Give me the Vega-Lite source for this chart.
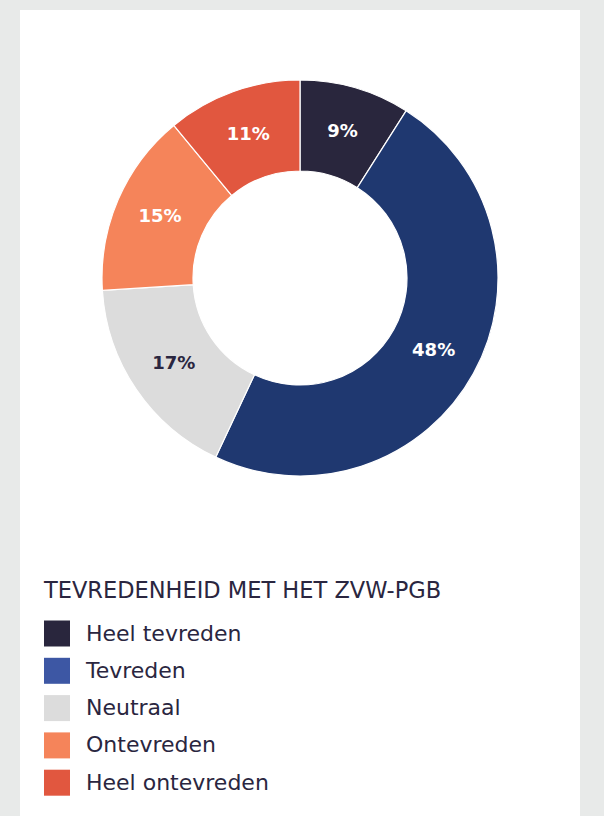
{
  "$schema": "https://vega.github.io/schema/vega-lite/v6.json",
  "background": "#e8eae9",
  "padding": {"left": 20, "top": 10, "right": 24, "bottom": 0},
  "spacing": 0,
  "config": {
    "view": {"fill": "white", "stroke": null},
    "font": "DejaVu Sans"
  },
  "datasets": {
    "tevredenheid": [
      {"cat": "Heel tevreden", "pct": 0.09},
      {"cat": "Tevreden", "pct": 0.48},
      {"cat": "Neutraal", "pct": 0.17},
      {"cat": "Ontevreden", "pct": 0.15},
      {"cat": "Heel ontevreden", "pct": 0.11}
    ]
  },
  "resolve": {"scale": {"color": "independent"}},
  "vconcat": [
    {
      "width": 560,
      "height": 536,
      "view": {"fill": "white", "stroke": null},
      "data": {"name": "tevredenheid"},
      "transform": [
        {"window": [{"op": "row_number", "as": "volgorde"}]}
      ],
      "encoding": {
        "theta": {"field": "pct", "type": "quantitative", "stack": true},
        "order": {"field": "volgorde", "type": "quantitative", "sort": "ascending"}
      },
      "resolve": {"scale": {"color": "independent"}},
      "layer": [
        {
          "mark": {"type": "arc", "radius": 198, "radius2": 107, "stroke": "white", "strokeWidth": 1.2},
          "encoding": {
            "color": {
              "field": "cat",
              "type": "nominal",
              "scale": {
                "domain": ["Heel tevreden", "Tevreden", "Neutraal", "Ontevreden", "Heel ontevreden"],
                "range": ["#29263d", "#1f3870", "#dcdcdc", "#f5845a", "#e1573f"]
              },
              "legend": null
            }
          }
        },
        {
          "mark": {"type": "text", "radius": 152.5, "fontSize": 18, "fontWeight": "bold", "font": "DejaVu Sans"},
          "encoding": {
            "text": {"field": "pct", "type": "quantitative", "format": ".0%"},
            "color": {
              "field": "cat",
              "type": "nominal",
              "scale": {
                "domain": ["Heel tevreden", "Tevreden", "Neutraal", "Ontevreden", "Heel ontevreden"],
                "range": ["#ffffff", "#ffffff", "#2a2640", "#ffffff", "#ffffff"]
              },
              "legend": null
            }
          }
        }
      ]
    },
    {
      "width": 560,
      "height": 270,
      "view": {"fill": "white", "stroke": null},
      "data": {"name": "tevredenheid"},
      "mark": {"type": "square", "opacity": 0},
      "encoding": {
        "color": {
          "field": "cat",
          "type": "nominal",
          "sort": ["Heel tevreden", "Tevreden", "Neutraal", "Ontevreden", "Heel ontevreden"],
          "scale": {
            "domain": ["Heel tevreden", "Tevreden", "Neutraal", "Ontevreden", "Heel ontevreden"],
            "range": ["#29263d", "#3d57a4", "#dcdcdc", "#f5845a", "#e1573f"]
          },
          "legend": {
            "orient": "none",
            "legendX": 24,
            "legendY": 34,
            "padding": 0,
            "title": "TEVREDENHEID MET HET ZVW-PGB",
            "titleFont": "DejaVu Sans",
            "titleFontSize": 22.5,
            "titleFontWeight": "normal",
            "titleColor": "#2a2640",
            "titlePadding": 18,
            "titleLimit": 600,
            "labelFont": "DejaVu Sans",
            "labelFontSize": 22,
            "labelColor": "#2a2640",
            "labelOffset": 16,
            "labelLimit": 400,
            "symbolType": "square",
            "symbolSize": 676,
            "symbolOpacity": 1,
            "symbolStrokeWidth": 0,
            "rowPadding": 11.3
          }
        }
      }
    }
  ]
}
